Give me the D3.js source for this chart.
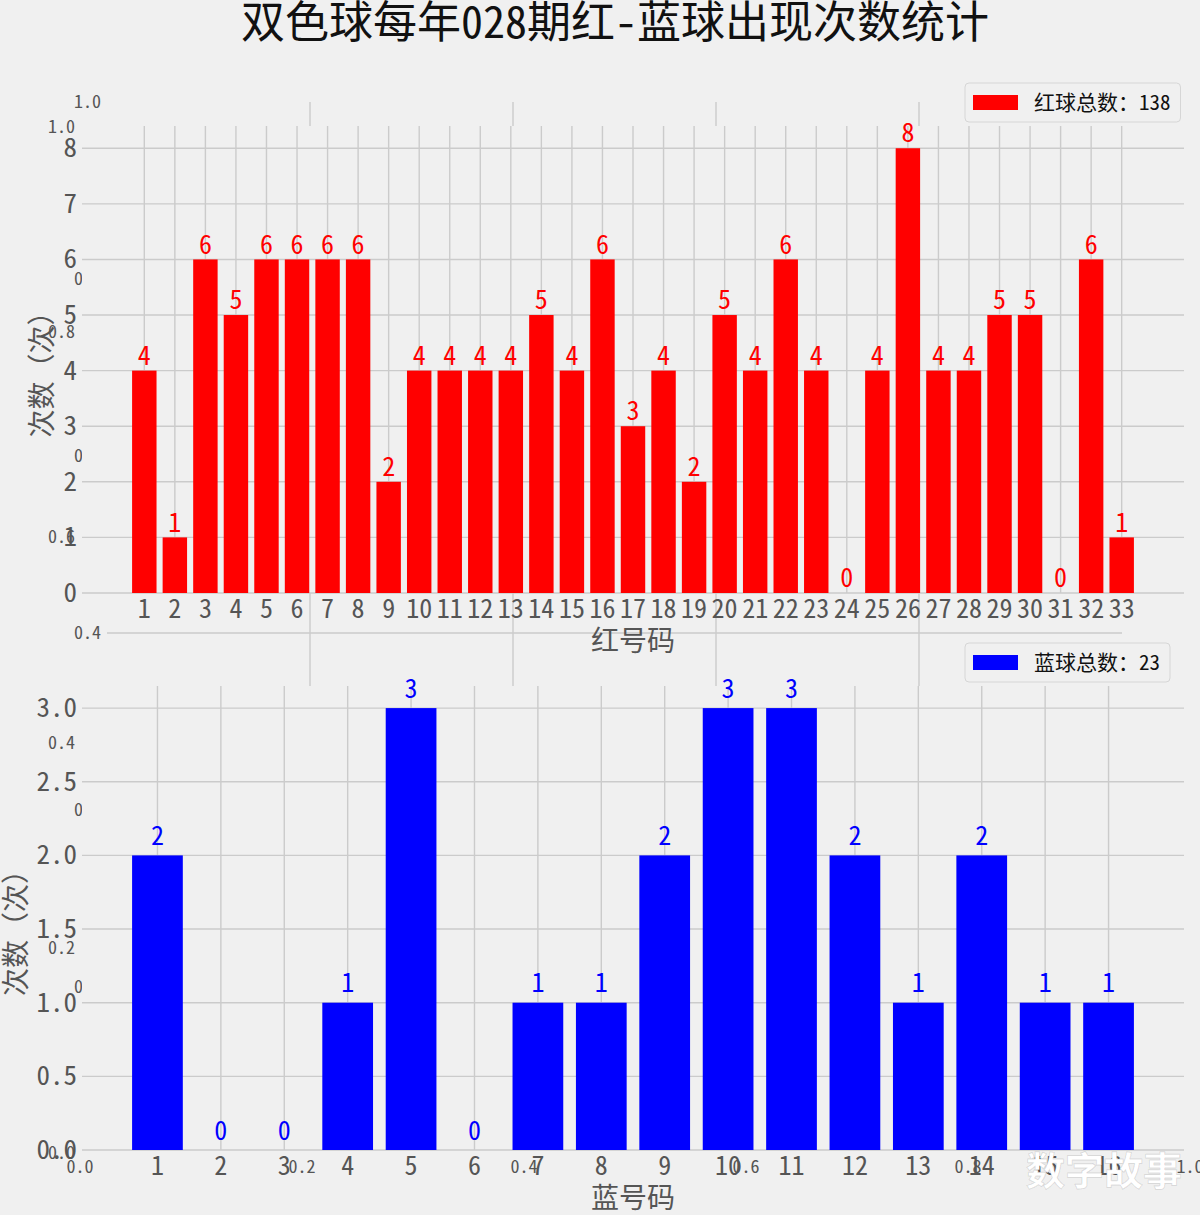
<!DOCTYPE html>
<html>
<head>
<meta charset="utf-8">
<script src="https://cdn.jsdelivr.net/npm/d3@7"></script>
<style>
  body { margin: 0; background: #f0f0f0; }
  svg { display: block; font-family: "Noto Sans Mono CJK SC", "Noto Sans CJK SC", "DejaVu Sans", sans-serif; }
</style>
</head>
<body>
<svg id="fig"></svg>
<script>
'use strict';

// ---- data ----
const redNums = ['1','2','3','4','5','6','7','8','9','10','11','12','13','14','15','16','17',
                 '18','19','20','21','22','23','24','25','26','27','28','29','30','31','32','33'];
const redCounts = [4,1,6,5,6,6,6,6,2,4,4,4,4,5,4,6,3,4,2,5,4,6,4,0,4,8,4,4,5,5,0,6,1];
const redTicks = [0,1,2,3,4,5,6,7,8];

const blueNums = ['1','2','3','4','5','6','7','8','9','10','11','12','13','14','15','16'];
const blueCounts = [2,0,0,1,3,0,1,1,2,3,3,2,1,2,1,1];
const blueTicks = [0,0.5,1.0,1.5,2.0,2.5,3.0];

// the stray 0..1 axes left behind under the two charts
const ghostTicks = [0,0.2,0.4,0.6,0.8,1.0];

const title = '双色球每年028期红-蓝球出现次数统计';

// ---- style ----
const W = 1200, H = 1215;
const bg = '#f0f0f0';
const grid_color = '#cbcbcb';
const tick_color = '#555555';
const font_tick = 26;
const font_ghost = 18;

const svg = d3.select('#fig').attr('width', W).attr('height', H);
svg.append('rect').attr('width', W).attr('height', H).attr('fill', bg);

// ---- ghost axes (drawn first, main axes cover them) ----
function drawGhost(xr, yr, opts) {
    const gx = d3.scaleLinear().domain([0, 1]).range(xr);
    const gy = d3.scaleLinear().domain([0, 1]).range(yr);
    const g = svg.append('g').attr('class', 'ghost');
    if (opts.grid) {
        g.selectAll('line.gv').data(ghostTicks.slice(1, -1)).enter().append('line')
            .attr('x1', d => gx(d)).attr('x2', d => gx(d))
            .attr('y1', gy(1)).attr('y2', gy(0))
            .attr('stroke', grid_color).attr('stroke-width', 1.4);
        g.selectAll('line.gh').data(ghostTicks.slice(1, -1)).enter().append('line')
            .attr('x1', gx(0)).attr('x2', gx(1))
            .attr('y1', d => gy(d)).attr('y2', d => gy(d))
            .attr('stroke', grid_color).attr('stroke-width', 1.4);
    }
    g.selectAll('text.gyl').data(ghostTicks).enter().append('text')
        .attr('x', opts.ylab_x).attr('y', d => gy(d) + 6)
        .attr('text-anchor', 'end')
        .attr('font-size', font_ghost).attr('fill', tick_color)
        .text(d => d.toFixed(1));
    g.selectAll('text.gxl').data(ghostTicks).enter().append('text')
        .attr('x', d => gx(d)).attr('y', gy(0) + opts.xlab_dy)
        .attr('text-anchor', 'middle')
        .attr('font-size', font_ghost).attr('fill', tick_color)
        .text(d => d.toFixed(1));
}
drawGhost([80, 1190], [1153, 127], {grid: false, ylab_x: 75, xlab_dy: 20});
drawGhost([107, 1122], [987, 102], {grid: true, ylab_x: 101, xlab_dy: 20});

// ---- one bar chart ----
function drawBars(cfg) {
    const n = cfg.values.length;
    const pad = 0.05 * (n - 1 + 0.8);
    const x = d3.scaleLinear().domain([0.6 - pad, n + 0.4 + pad]).range([cfg.left, cfg.right]);
    const y = d3.scaleLinear().domain([0, cfg.ymax]).range([cfg.bottom, cfg.top]);
    const g = svg.append('g').attr('class', 'axes');

    // axes patch
    g.append('rect')
        .attr('x', cfg.left).attr('y', cfg.top)
        .attr('width', cfg.right - cfg.left).attr('height', cfg.bottom - cfg.top)
        .attr('fill', bg);

    // grid
    g.selectAll('line.vg').data(cfg.values).enter().append('line')
        .attr('x1', (d, i) => x(i + 1)).attr('x2', (d, i) => x(i + 1))
        .attr('y1', cfg.top).attr('y2', cfg.bottom)
        .attr('stroke', grid_color).attr('stroke-width', 1.4);
    g.selectAll('line.hg').data(cfg.yticks).enter().append('line')
        .attr('x1', cfg.left).attr('x2', cfg.right)
        .attr('y1', d => y(d)).attr('y2', d => y(d))
        .attr('stroke', grid_color).attr('stroke-width', 1.4);

    // bars
    g.selectAll('rect.bar').data(cfg.values).enter().append('rect')
        .attr('class', 'bar')
        .attr('x', (d, i) => x(i + 1 - 0.4))
        .attr('width', x(0.8) - x(0))
        .attr('y', d => y(d))
        .attr('height', d => y(0) - y(d))
        .attr('fill', cfg.color);

    // value labels
    g.selectAll('text.val').data(cfg.values).enter().append('text')
        .attr('x', (d, i) => x(i + 1))
        .attr('y', d => y(d + 0.05) - 3)
        .attr('text-anchor', 'middle')
        .attr('font-size', 26).attr('fill', cfg.color)
        .text(d => d);

    // tick labels
    g.selectAll('text.xt').data(cfg.labels).enter().append('text')
        .attr('x', (d, i) => x(i + 1)).attr('y', cfg.bottom + 25)
        .attr('text-anchor', 'middle')
        .attr('font-size', font_tick).attr('fill', tick_color)
        .text(d => d);
    g.selectAll('text.yt').data(cfg.yticks).enter().append('text')
        .attr('x', cfg.left - 5).attr('y', d => y(d) + 9)
        .attr('text-anchor', 'end')
        .attr('font-size', 27).attr('fill', tick_color)
        .text(d => cfg.yfmt(d));

    // axis labels
    g.append('text')
        .attr('x', (cfg.left + cfg.right) / 2).attr('y', cfg.bottom + 58)
        .attr('text-anchor', 'middle')
        .attr('font-size', 28).attr('fill', tick_color)
        .text(cfg.xlabel);
    const ly = (cfg.top + cfg.bottom) / 2 + 8;
    g.append('text')
        .attr('x', cfg.ylab_x).attr('y', ly)
        .attr('transform', 'rotate(-90,' + cfg.ylab_x + ',' + ly + ')')
        .attr('text-anchor', 'middle')
        .attr('font-size', 28).attr('fill', tick_color)
        .text('次数（次）');

    // legend
    const lg = g.append('g').attr('transform', 'translate(965,' + (cfg.top - 43) + ')');
    const box = lg.append('rect')
        .attr('height', 39).attr('rx', 4)
        .attr('fill', bg).attr('stroke', '#d6d6d6');
    lg.append('rect')
        .attr('x', 8).attr('y', 12).attr('width', 45).attr('height', 15)
        .attr('fill', cfg.color);
    const lt = lg.append('text')
        .attr('x', 69).attr('y', 27)
        .attr('font-size', 21).attr('fill', '#111')
        .text(cfg.legend + d3.sum(cfg.values));
    box.attr('width', 69 + lt.node().getComputedTextLength() + 10);
}

drawBars({
    values: redCounts, labels: redNums, yticks: redTicks, ymax: 8.4,
    color: '#ff0000', left: 82, right: 1184, top: 126, bottom: 593,
    yfmt: d => d, xlabel: '红号码', ylab_x: 52, legend: '红球总数：'
});
drawBars({
    values: blueCounts, labels: blueNums, yticks: blueTicks, ymax: 3.15,
    color: '#0000ff', left: 82, right: 1184, top: 686, bottom: 1150,
    yfmt: d => d.toFixed(1), xlabel: '蓝号码', ylab_x: 26, legend: '蓝球总数：'
});

// title
svg.append('text')
    .attr('x', 615).attr('y', 38)
    .attr('text-anchor', 'middle')
    .attr('font-size', 44).attr('font-weight', 500).attr('fill', '#111')
    .text(title);

// watermark
svg.append('text')
    .attr('x', 1104).attr('y', 1185)
    .attr('text-anchor', 'middle')
    .attr('font-size', 39).attr('font-weight', 'bold')
    .attr('fill', '#ffffff').attr('stroke', 'rgba(0,0,0,0.12)').attr('stroke-width', 1)
    .text('数字故事');
</script>
</body>
</html>
